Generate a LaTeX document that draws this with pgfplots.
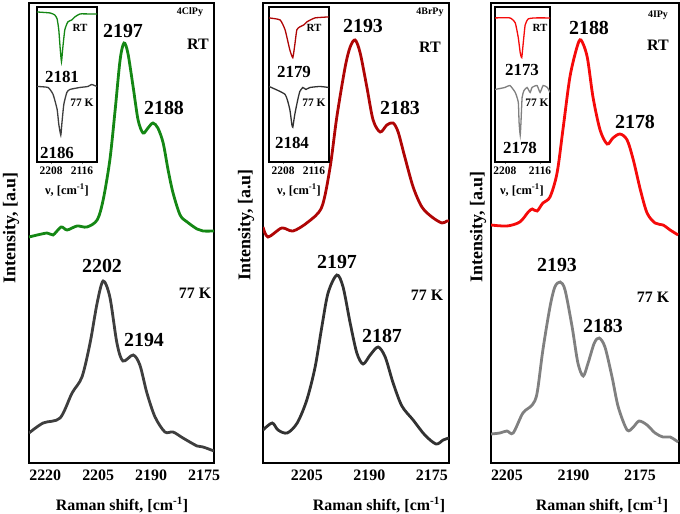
\documentclass[border=0pt]{standalone}
\usepackage{pgfplots}
\pgfplotsset{compat=1.18}
\usepackage{fontspec}
\setmainfont{Liberation Serif}
\definecolor{cgreen}{RGB}{20,135,20}
\definecolor{cdark}{RGB}{62,62,62}
\definecolor{cdred}{RGB}{175,5,5}
\definecolor{cdark2}{RGB}{50,50,50}
\definecolor{cred}{RGB}{245,10,10}
\definecolor{cgray}{RGB}{128,128,128}
\newcommand{\fs}[1]{\fontsize{#1}{#1}\selectfont\bfseries}
\pgfplotsset{
 mainax/.style={scale only axis, height=460bp, x dir=reverse, ymin=0, ymax=460,
  ytick=\empty, axis line style={line width=1.6bp}, major tick length=0pt,
  tick label style={font=\fs{16}}, xticklabel style={yshift=-3bp},
  /pgf/number format/set thousands separator={},
  /pgf/number format/assume math mode=true,
  every axis plot/.append style={line width=2.8bp, smooth, tension=0.5, no markers}},
 insetax/.style={scale only axis, height=155bp, width=60bp, x dir=reverse, ymin=0, ymax=156,
  ytick=\empty, xtick={2208,2116}, axis line style={line width=1.2bp},
  major tick length=2bp, xtick pos=bottom, tick align=outside,
  tick label style={font=\fs{11.5}}, xticklabel style={yshift=1bp},
  axis background/.style={fill=white},
  /pgf/number format/set thousands separator={},
  /pgf/number format/assume math mode=true,
  every axis plot/.append style={line width=1.3bp, smooth, tension=0.3, no markers}},
}
\begin{document}
\begin{tikzpicture}
\path[use as bounding box] (0,0) rectangle (680bp,514bp);
% ---------- Panel 1 ----------
\begin{axis}[mainax, at={(29bp,51bp)}, anchor=south west, width=185bp,
  xmin=2172.2, xmax=2224.6, xtick={2220,2205,2190,2175}]
\addplot[cgreen] coordinates {(2224.6,226)(2219.5,230)(2217.8,228)(2215.5,236)(2213.8,233)(2211.0,237)(2208.2,236)(2205.3,243)(2203.6,263)(2201.7,303)(2200.2,353)(2198.8,403)(2197.7,420)(2196.6,410)(2195.1,376)(2193.7,343)(2192.3,330)(2190.9,335)(2189.5,340)(2188.1,335)(2186.6,320)(2185.2,293)(2183.8,270)(2181.8,248)(2179.8,241)(2177.0,234)(2175.3,232)(2172.2,232)};
\addplot[cdark] coordinates {(2224.6,30)(2220.6,40)(2215.8,45)(2212.4,70)(2209.6,86)(2207.3,120)(2205.3,160)(2203.6,182)(2201.7,166)(2199.7,120)(2198.0,102)(2195.1,108)(2193.2,98)(2191.2,70)(2188.9,46)(2186.1,31)(2183.8,31)(2181.0,25)(2177.0,17)(2175.3,16)(2172.2,12)};
\end{axis}
% ---------- Panel 2 ----------
\begin{axis}[mainax, at={(263bp,51bp)}, anchor=south west, width=186bp,
  xmin=2170.9, xmax=2215.5, xtick={2205,2190,2175}]
\addplot[cdred] coordinates {(2215.5,236)(2214.3,226)(2211.0,235)(2208.3,232)(2204.7,241)(2201.4,256)(2199.4,296)(2197.8,346)(2195.8,396)(2194.6,416)(2193.4,423)(2192.2,410)(2190.6,376)(2189.1,343)(2187.4,331)(2185.8,338)(2184.3,340)(2183.1,331)(2181.5,306)(2179.5,276)(2177.4,256)(2175.0,246)(2172.6,240)(2171.4,242)(2170.9,242)};
\addplot[cdark2] coordinates {(2215.5,33)(2213.3,40)(2211.9,33)(2209.7,30)(2207.3,40)(2205.0,63)(2203.0,96)(2201.4,136)(2199.9,170)(2197.8,188)(2196.3,176)(2194.6,140)(2193.0,110)(2191.5,99)(2189.8,108)(2187.9,116)(2186.2,106)(2184.3,80)(2182.2,57)(2179.5,43)(2176.7,28)(2174.0,19)(2172.3,23)(2170.9,25)};
\end{axis}
% ---------- Panel 3 ----------
\begin{axis}[mainax, at={(491bp,51bp)}, anchor=south west, width=188bp,
  xmin=2166.2, xmax=2208.6, xtick={2205,2190,2175}]
\addplot[cred] coordinates {(2208.6,238)(2205.0,237)(2202.1,241)(2200.2,251)(2199.3,254)(2198.2,252)(2196.9,260)(2195.3,266)(2193.7,290)(2192.3,336)(2190.8,386)(2189.2,416)(2188.3,423)(2186.9,406)(2185.6,366)(2184.0,333)(2182.4,319)(2181.1,325)(2179.5,329)(2177.9,323)(2176.5,303)(2174.9,273)(2173.4,250)(2171.6,240)(2169.8,238)(2168.2,233)(2166.4,228)};
\addplot[cgray] coordinates {(2208.6,29)(2206.6,30)(2205.0,32)(2203.6,30)(2201.4,50)(2199.3,58)(2198.2,70)(2196.9,113)(2195.3,156)(2194.2,176)(2193.0,181)(2191.9,173)(2190.3,136)(2189.0,100)(2187.8,87)(2186.7,100)(2185.3,120)(2184.2,125)(2182.9,116)(2181.3,86)(2179.9,56)(2177.9,33)(2176.5,36)(2175.2,42)(2173.4,38)(2171.6,30)(2169.8,26)(2168.2,26)(2166.4,21)};
\end{axis}
% ---------- Insets ----------
\begin{axis}[insetax, at={(37bp,352bp)}, anchor=south west, xmin=2071, xmax=2250]
\addplot[cgreen] coordinates {(2250,151)(2211,150)(2197,148)(2190,144)(2185,133)(2181,115)(2177,101)(2173,115)(2167,133)(2158,141)(2146,143)(2137,146)(2122,149)(2093,149)(2071,149)};
\addplot[cdark] coordinates {(2250,76)(2217,75)(2202,68)(2190,53)(2185,38)(2179,27)(2176,38)(2170,58)(2161,70)(2152,73)(2122,75)(2098,76)(2087,78)(2071,76)};
\end{axis}
\begin{axis}[insetax, at={(269bp,352bp)}, anchor=south west, xmin=2071, xmax=2250]
\addplot[cdred] coordinates {(2250,145)(2217,143)(2202,133)(2188,113)(2179,105)(2173,118)(2167,133)(2158,136)(2146,138)(2137,141)(2113,145)(2072,146)};
\addplot[cdark2] coordinates {(2250,76)(2202,68)(2188,53)(2182,38)(2179,35)(2173,48)(2164,63)(2158,71)(2149,75)(2140,73)(2128,75)(2098,76)(2072,75)};
\end{axis}
\begin{axis}[insetax, at={(495bp,352bp)}, anchor=south west, width=55bp, xmin=2090, xmax=2234]
\addplot[cred] coordinates {(2234,145)(2195,145)(2181,140)(2173,125)(2168,110)(2164,105)(2160,120)(2155,138)(2147,144)(2129,145)(2090,145)};
\addplot[cgray] coordinates {(2234,73)(2208,75)(2195,77)(2181,70)(2173,60)(2171,40)(2168,27)(2166,40)(2163,65)(2158,72)(2150,75)(2142,70)(2137,75)(2124,77)(2116,70)(2108,77)(2097,75)(2090,70)};
\end{axis}
% ---------- Text ----------
\begin{scope}[every node/.style={inner sep=0pt}]
% axis labels
\node[font=\fs{16}] at (122bp,9bp) {Raman shift, [cm\textsuperscript{-1}]};
\node[font=\fs{16}] at (379bp,9bp) {Raman shift, [cm\textsuperscript{-1}]};
\node[font=\fs{16}] at (602bp,9bp) {Raman shift, [cm\textsuperscript{-1}]};
\node[font=\fs{18},rotate=90] at (11bp,286bp) {Intensity, [a.u]};
\node[font=\fs{18},rotate=90] at (246bp,289bp) {Intensity, [a.u]};
\node[font=\fs{18},rotate=90] at (478bp,287bp) {Intensity, [a.u]};
% panel 1
\node[font=\fs{10}] at (190bp,502bp) {4ClPy};
\node[font=\fs{16}] at (198bp,470bp) {RT};
\node[font=\fs{20}] at (123bp,483bp) {2197};
\node[font=\fs{20}] at (164bp,406bp) {2188};
\node[font=\fs{20}] at (102bp,248bp) {2202};
\node[font=\fs{20}] at (144bp,174bp) {2194};
\node[font=\fs{16}] at (195bp,221bp) {77 K};
% panel 2
\node[font=\fs{10}] at (430bp,502bp) {4BrPy};
\node[font=\fs{16}] at (430bp,467bp) {RT};
\node[font=\fs{20}] at (363bp,488bp) {2193};
\node[font=\fs{20}] at (400bp,406bp) {2183};
\node[font=\fs{20}] at (337bp,252bp) {2197};
\node[font=\fs{20}] at (382bp,178bp) {2187};
\node[font=\fs{16}] at (427bp,219bp) {77 K};
% panel 3
\node[font=\fs{10}] at (658bp,499bp) {4IPy};
\node[font=\fs{16}] at (658bp,469bp) {RT};
\node[font=\fs{20}] at (589bp,486bp) {2188};
\node[font=\fs{20}] at (635bp,392bp) {2178};
\node[font=\fs{20}] at (557bp,249bp) {2193};
\node[font=\fs{20}] at (603bp,188bp) {2183};
\node[font=\fs{16}] at (653bp,217bp) {77 K};
% inset labels
\node[font=\fs{11}] at (80bp,486bp) {RT};
\node[font=\fs{17}] at (62bp,437bp) {2181};
\node[font=\fs{11.5}] at (82bp,411bp) {77 K};
\node[font=\fs{17}] at (57bp,361bp) {2186};
\node[font=\fs{12.5}] at (67bp,324bp) {ν, [cm\textsuperscript{-1}]};
\node[font=\fs{11}] at (314bp,486bp) {RT};
\node[font=\fs{17}] at (294bp,442bp) {2179};
\node[font=\fs{11.5}] at (314bp,411bp) {77 K};
\node[font=\fs{17}] at (292bp,371bp) {2184};
\node[font=\fs{12.5}] at (299bp,324bp) {ν, [cm\textsuperscript{-1}]};
\node[font=\fs{11}] at (540bp,486bp) {RT};
\node[font=\fs{17}] at (522bp,444bp) {2173};
\node[font=\fs{11.5}] at (537bp,411bp) {77 K};
\node[font=\fs{17}] at (520bp,366bp) {2178};
\node[font=\fs{12.5}] at (522bp,324bp) {ν, [cm\textsuperscript{-1}]};
\end{scope}
\end{tikzpicture}
\end{document}
